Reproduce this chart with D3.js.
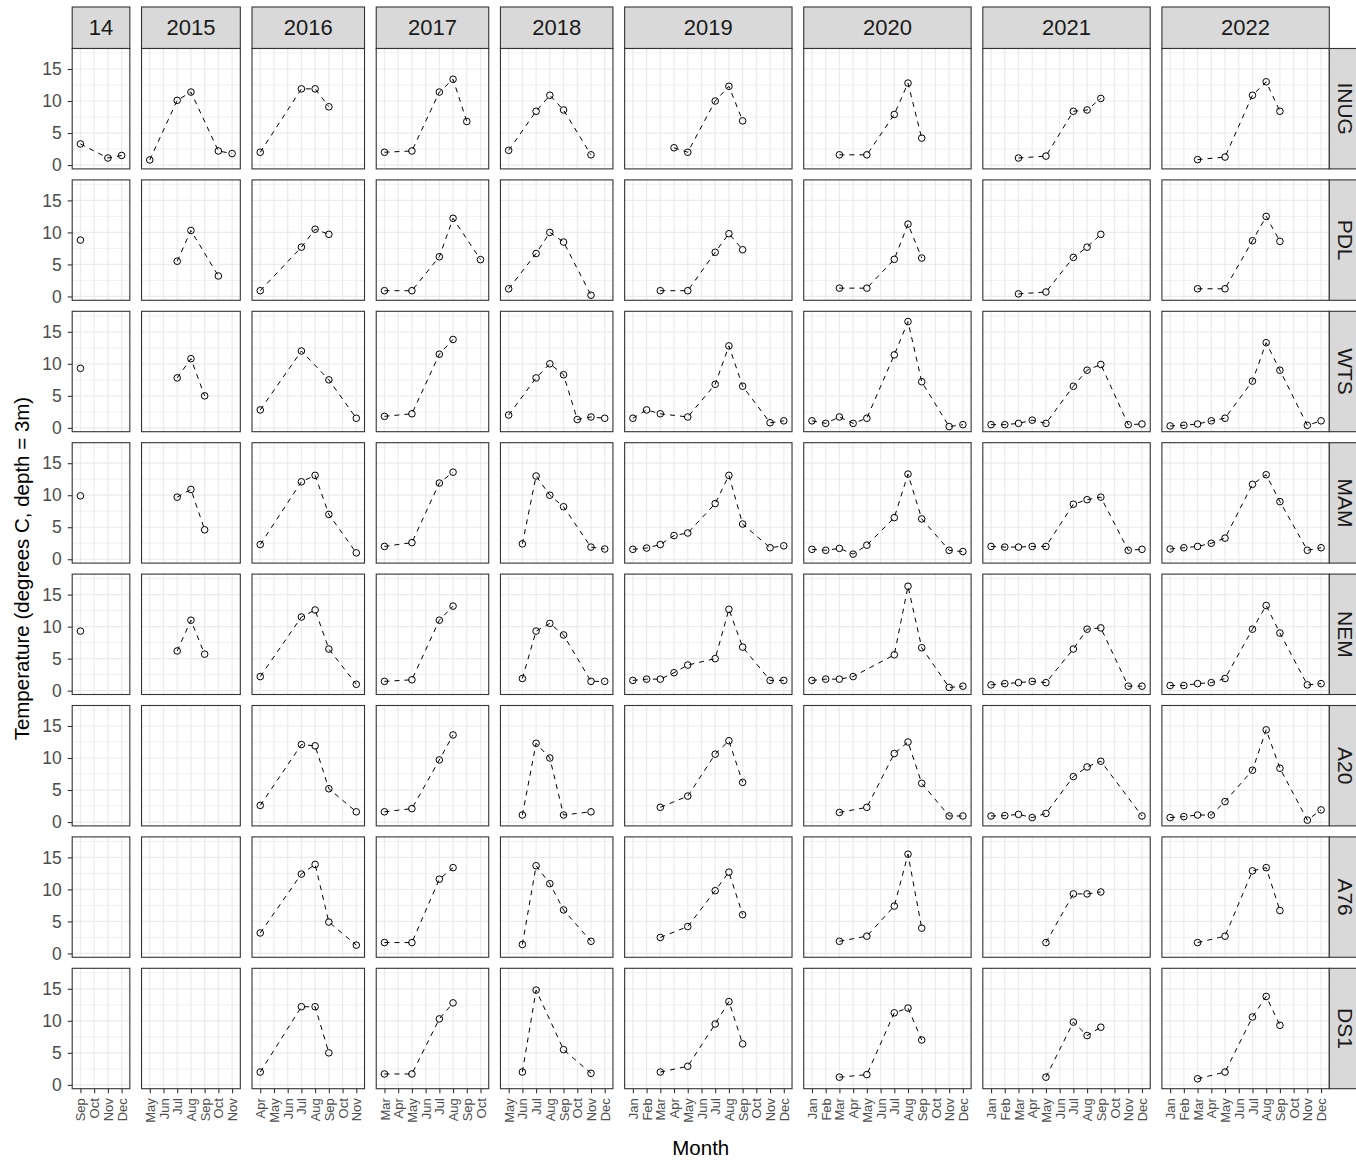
<!DOCTYPE html>
<html>
<head>
<meta charset="utf-8">
<script src="https://cdn.jsdelivr.net/npm/d3@7"></script>
<style>
  body { margin: 0; background: #fff; }
  svg { display: block; font-family: "Liberation Sans", Arial, sans-serif; }
</style>
</head>
<body>
<div id="chart"></div>
<script>
// ---- data ----
const sites = ["INUG", "PDL", "WTS", "MAM", "NEM", "A20", "A76", "DS1"];
const years = [2014, 2015, 2016, 2017, 2018, 2019, 2020, 2021, 2022];
const yearLabels = ["14", "2015", "2016", "2017", "2018", "2019", "2020", "2021", "2022"];
const monthLabels = ["Jan", "Feb", "Mar", "Apr", "May", "Jun", "Jul", "Aug", "Sep", "Oct", "Nov", "Dec"];
const yTicks = [0, 5, 10, 15];
const yMinor = [2.5, 7.5, 12.5, 17.5];

// [year, month, temperature]
const obsINUG = [
  [2014, 9, 3.3], [2014, 11, 1.1], [2014, 12, 1.5],
  [2015, 5, 0.8], [2015, 7, 10.1], [2015, 8, 11.4], [2015, 10, 2.2], [2015, 11, 1.8],
  [2016, 4, 2.0], [2016, 7, 11.9], [2016, 8, 11.9], [2016, 9, 9.1],
  [2017, 3, 2.0], [2017, 5, 2.2], [2017, 7, 11.4], [2017, 8, 13.4], [2017, 9, 6.8],
  [2018, 5, 2.3], [2018, 7, 8.4], [2018, 8, 10.9], [2018, 9, 8.6], [2018, 11, 1.6],
  [2019, 4, 2.7], [2019, 5, 2.0], [2019, 7, 10.0], [2019, 8, 12.3], [2019, 9, 6.9],
  [2020, 3, 1.6], [2020, 5, 1.6], [2020, 7, 7.9], [2020, 8, 12.8], [2020, 9, 4.2],
  [2021, 3, 1.1], [2021, 5, 1.4], [2021, 7, 8.4], [2021, 8, 8.6], [2021, 9, 10.4],
  [2022, 3, 0.85], [2022, 5, 1.25], [2022, 7, 10.9], [2022, 8, 13.0], [2022, 9, 8.4]
];
const obsPDL = [
  [2014, 9, 8.8],
  [2015, 7, 5.5], [2015, 8, 10.3], [2015, 10, 3.2],
  [2016, 4, 0.9], [2016, 7, 7.7], [2016, 8, 10.5], [2016, 9, 9.7],
  [2017, 3, 0.9], [2017, 5, 0.9], [2017, 7, 6.2], [2017, 8, 12.2], [2017, 10, 5.75],
  [2018, 5, 1.2], [2018, 7, 6.7], [2018, 8, 10.0], [2018, 9, 8.5], [2018, 11, 0.2],
  [2019, 3, 0.9], [2019, 5, 0.9], [2019, 7, 6.9], [2019, 8, 9.8], [2019, 9, 7.3],
  [2020, 3, 1.3], [2020, 5, 1.3], [2020, 7, 5.8], [2020, 8, 11.3], [2020, 9, 6.0],
  [2021, 3, 0.4], [2021, 5, 0.7], [2021, 7, 6.1], [2021, 8, 7.7], [2021, 9, 9.7],
  [2022, 3, 1.2], [2022, 5, 1.2], [2022, 7, 8.7], [2022, 8, 12.5], [2022, 9, 8.6]
];
const obsWTS = [
  [2014, 9, 9.3],
  [2015, 7, 7.8], [2015, 8, 10.8], [2015, 9, 5.0],
  [2016, 4, 2.8], [2016, 7, 12.0], [2016, 9, 7.5], [2016, 11, 1.5],
  [2017, 3, 1.8], [2017, 5, 2.2], [2017, 7, 11.5], [2017, 8, 13.8],
  [2018, 5, 2.0], [2018, 7, 7.8], [2018, 8, 10.0], [2018, 9, 8.3], [2018, 10, 1.3], [2018, 11, 1.7], [2018, 12, 1.5],
  [2019, 1, 1.5], [2019, 2, 2.8], [2019, 3, 2.2], [2019, 5, 1.7], [2019, 7, 6.8], [2019, 8, 12.8], [2019, 9, 6.5], [2019, 11, 0.8], [2019, 12, 1.1],
  [2020, 1, 1.1], [2020, 2, 0.7], [2020, 3, 1.7], [2020, 4, 0.7], [2020, 5, 1.5], [2020, 7, 11.4], [2020, 8, 16.6], [2020, 9, 7.2], [2020, 11, 0.2], [2020, 12, 0.5],
  [2021, 1, 0.5], [2021, 2, 0.5], [2021, 3, 0.7], [2021, 4, 1.2], [2021, 5, 0.7], [2021, 7, 6.5], [2021, 8, 9.0], [2021, 9, 9.9], [2021, 11, 0.5], [2021, 12, 0.6],
  [2022, 1, 0.3], [2022, 2, 0.4], [2022, 3, 0.6], [2022, 4, 1.1], [2022, 5, 1.5], [2022, 7, 7.3], [2022, 8, 13.3], [2022, 9, 9.0], [2022, 11, 0.4], [2022, 12, 1.1]
];
const obsMAM = [
  [2014, 9, 9.9],
  [2015, 7, 9.7], [2015, 8, 10.9], [2015, 9, 4.6],
  [2016, 4, 2.3], [2016, 7, 12.1], [2016, 8, 13.1], [2016, 9, 7.0], [2016, 11, 1.0],
  [2017, 3, 2.0], [2017, 5, 2.6], [2017, 7, 11.9], [2017, 8, 13.6],
  [2018, 6, 2.4], [2018, 7, 13.0], [2018, 8, 10.0], [2018, 9, 8.2], [2018, 11, 1.9], [2018, 12, 1.6],
  [2019, 1, 1.55], [2019, 2, 1.75], [2019, 3, 2.3], [2019, 4, 3.7], [2019, 5, 4.1], [2019, 7, 8.7], [2019, 8, 13.1], [2019, 9, 5.5], [2019, 11, 1.8], [2019, 12, 2.1],
  [2020, 1, 1.55], [2020, 2, 1.4], [2020, 3, 1.7], [2020, 4, 0.8], [2020, 5, 2.2], [2020, 7, 6.5], [2020, 8, 13.3], [2020, 9, 6.3], [2020, 11, 1.4], [2020, 12, 1.2],
  [2021, 1, 2.0], [2021, 2, 1.9], [2021, 3, 1.9], [2021, 4, 2.0], [2021, 5, 2.0], [2021, 7, 8.6], [2021, 8, 9.3], [2021, 9, 9.7], [2021, 11, 1.4], [2021, 12, 1.55],
  [2022, 1, 1.6], [2022, 2, 1.8], [2022, 3, 2.0], [2022, 4, 2.5], [2022, 5, 3.3], [2022, 7, 11.7], [2022, 8, 13.2], [2022, 9, 9.0], [2022, 11, 1.4], [2022, 12, 1.8]
];
const obsNEM = [
  [2014, 9, 9.3],
  [2015, 7, 6.2], [2015, 8, 11.0], [2015, 9, 5.7],
  [2016, 4, 2.2], [2016, 7, 11.5], [2016, 8, 12.6], [2016, 9, 6.5], [2016, 11, 1.0],
  [2017, 3, 1.45], [2017, 5, 1.7], [2017, 7, 11.0], [2017, 8, 13.2],
  [2018, 6, 1.9], [2018, 7, 9.3], [2018, 8, 10.5], [2018, 9, 8.7], [2018, 11, 1.45], [2018, 12, 1.45],
  [2019, 1, 1.6], [2019, 2, 1.8], [2019, 3, 1.8], [2019, 4, 2.8], [2019, 5, 4.0], [2019, 7, 5.0], [2019, 8, 12.7], [2019, 9, 6.8], [2019, 11, 1.6], [2019, 12, 1.6],
  [2020, 1, 1.6], [2020, 2, 1.8], [2020, 3, 1.8], [2020, 4, 2.2], [2020, 7, 5.6], [2020, 8, 16.3], [2020, 9, 6.7], [2020, 11, 0.5], [2020, 12, 0.7],
  [2021, 1, 0.9], [2021, 2, 1.1], [2021, 3, 1.25], [2021, 4, 1.45], [2021, 5, 1.25], [2021, 7, 6.5], [2021, 8, 9.6], [2021, 9, 9.8], [2021, 11, 0.7], [2021, 12, 0.7],
  [2022, 1, 0.8], [2022, 2, 0.8], [2022, 3, 1.1], [2022, 4, 1.25], [2022, 5, 1.9], [2022, 7, 9.6], [2022, 8, 13.3], [2022, 9, 9.0], [2022, 11, 0.9], [2022, 12, 1.1]
];
const obsA20 = [
  [2016, 4, 2.6], [2016, 7, 12.1], [2016, 8, 11.9], [2016, 9, 5.2], [2016, 11, 1.6],
  [2017, 3, 1.6], [2017, 5, 2.1], [2017, 7, 9.7], [2017, 8, 13.6],
  [2018, 6, 1.1], [2018, 7, 12.3], [2018, 8, 10.0], [2018, 9, 1.1], [2018, 11, 1.6],
  [2019, 3, 2.3], [2019, 5, 4.05], [2019, 7, 10.6], [2019, 8, 12.7], [2019, 9, 6.2],
  [2020, 3, 1.5], [2020, 5, 2.3], [2020, 7, 10.7], [2020, 8, 12.5], [2020, 9, 6.05], [2020, 11, 0.95], [2020, 12, 0.95],
  [2021, 1, 0.95], [2021, 2, 1.0], [2021, 3, 1.2], [2021, 4, 0.7], [2021, 5, 1.35], [2021, 7, 7.1], [2021, 8, 8.6], [2021, 9, 9.5], [2021, 12, 0.95],
  [2022, 1, 0.7], [2022, 2, 0.85], [2022, 3, 1.1], [2022, 4, 1.1], [2022, 5, 3.2], [2022, 7, 8.1], [2022, 8, 14.4], [2022, 9, 8.4], [2022, 11, 0.3], [2022, 12, 1.9]
];
const obsA76 = [
  [2016, 4, 3.2], [2016, 7, 12.4], [2016, 8, 13.9], [2016, 9, 4.9], [2016, 11, 1.3],
  [2017, 3, 1.7], [2017, 5, 1.7], [2017, 7, 11.6], [2017, 8, 13.4],
  [2018, 6, 1.4], [2018, 7, 13.7], [2018, 8, 10.9], [2018, 9, 6.8], [2018, 11, 1.9],
  [2019, 3, 2.5], [2019, 5, 4.2], [2019, 7, 9.8], [2019, 8, 12.7], [2019, 9, 6.05],
  [2020, 3, 1.9], [2020, 5, 2.7], [2020, 7, 7.4], [2020, 8, 15.5], [2020, 9, 3.95],
  [2021, 5, 1.7], [2021, 7, 9.3], [2021, 8, 9.3], [2021, 9, 9.6],
  [2022, 3, 1.7], [2022, 5, 2.7], [2022, 7, 12.9], [2022, 8, 13.4], [2022, 9, 6.7]
];
const obsDS1 = [
  [2016, 4, 2.0], [2016, 7, 12.2], [2016, 8, 12.2], [2016, 9, 5.0],
  [2017, 3, 1.7], [2017, 5, 1.7], [2017, 7, 10.3], [2017, 8, 12.8],
  [2018, 6, 2.0], [2018, 7, 14.8], [2018, 9, 5.5], [2018, 11, 1.8],
  [2019, 3, 2.0], [2019, 5, 2.9], [2019, 7, 9.5], [2019, 8, 13.0], [2019, 9, 6.4],
  [2020, 3, 1.2], [2020, 5, 1.6], [2020, 7, 11.25], [2020, 8, 12.0], [2020, 9, 7.0],
  [2021, 5, 1.2], [2021, 7, 9.8], [2021, 8, 7.7], [2021, 9, 9.0],
  [2022, 3, 0.95], [2022, 5, 2.0], [2022, 7, 10.6], [2022, 8, 13.8], [2022, 9, 9.3]
];

const siteObs = {
  INUG: obsINUG, PDL: obsPDL, WTS: obsWTS, MAM: obsMAM,
  NEM: obsNEM, A20: obsA20, A76: obsA76, DS1: obsDS1
};

// ---- layout ----
const width = 1356, height = 1165;
const plotLeft = 72.2, plotRight = 1329.3, colGap = 11.7;
const panelTop = 48.5, rowH = 120.4, rowGap = 11;
const stripH = 41.5, stripW = 41;
const padMonths = 0.6; // x expansion each side

const gridCol = "#EBEBEB", frameCol = "#333333", textCol = "#4D4D4D";

// month extent per year column, from all sites
const allObs = sites.flatMap(s => siteObs[s].map(d => ({ site: s, year: d[0], month: d[1], temp: d[2] })));
const colExtent = years.map(yr => d3.extent(allObs.filter(d => d.year === yr), d => d.month));
const spans = colExtent.map(e => e[1] - e[0] + 2 * padMonths);
const pxPerMonth = (plotRight - plotLeft - colGap * (years.length - 1)) / d3.sum(spans);

let xCursor = plotLeft;
const cols = years.map((yr, i) => {
  const w = spans[i] * pxPerMonth;
  const c = {
    year: yr, label: yearLabels[i], x0: xCursor, w: w,
    months: d3.range(colExtent[i][0], colExtent[i][1] + 1),
    x: d3.scaleLinear().domain([colExtent[i][0] - padMonths, colExtent[i][1] + padMonths]).range([0, w])
  };
  xCursor += w + colGap;
  return c;
});

const y = d3.scaleLinear().domain([-0.6, 18.2]).range([rowH, 0]);

const svg = d3.select("#chart").append("svg")
  .attr("width", width)
  .attr("height", height);

svg.append("rect").attr("width", width).attr("height", height).attr("fill", "#fff");

// top strips
cols.forEach(c => {
  const g = svg.append("g").attr("transform", `translate(${c.x0},${panelTop - stripH})`);
  g.append("rect")
    .attr("width", c.w).attr("height", stripH)
    .attr("fill", "#D9D9D9").attr("stroke", frameCol).attr("stroke-width", 1.1);
  g.append("text")
    .attr("x", c.w / 2).attr("y", stripH / 2)
    .attr("dy", "0.35em")
    .attr("text-anchor", "middle")
    .style("font-size", "22px")
    .style("fill", "#1A1A1A")
    .text(c.label);
});

// panels
sites.forEach((site, r) => {
  const py = panelTop + r * (rowH + rowGap);

  cols.forEach((c, ci) => {
    const g = svg.append("g").attr("transform", `translate(${c.x0},${py})`);

    g.append("rect").attr("width", c.w).attr("height", rowH).attr("fill", "#fff");

    g.selectAll("line.ymin").data(yMinor).enter().append("line")
      .attr("x1", 0).attr("x2", c.w)
      .attr("y1", d => y(d)).attr("y2", d => y(d))
      .attr("stroke", gridCol).attr("stroke-width", 0.7);
    g.selectAll("line.ymaj").data(yTicks).enter().append("line")
      .attr("x1", 0).attr("x2", c.w)
      .attr("y1", d => y(d)).attr("y2", d => y(d))
      .attr("stroke", gridCol).attr("stroke-width", 1.2);
    g.selectAll("line.xmaj").data(c.months).enter().append("line")
      .attr("x1", d => c.x(d)).attr("x2", d => c.x(d))
      .attr("y1", 0).attr("y2", rowH)
      .attr("stroke", gridCol).attr("stroke-width", 1.2);

    const pts = siteObs[site]
      .filter(d => d[0] === c.year)
      .map(d => ({ month: d[1], temp: d[2] }))
      .sort((a, b) => a.month - b.month);

    if (pts.length > 1) {
      const line = d3.line().x(d => c.x(d.month)).y(d => y(d.temp));
      g.append("path")
        .datum(pts)
        .attr("d", line)
        .attr("fill", "none")
        .attr("stroke", "#000")
        .attr("stroke-width", 1)
        .attr("stroke-dasharray", "5,5");
    }

    g.selectAll("circle").data(pts).enter().append("circle")
      .attr("cx", d => c.x(d.month))
      .attr("cy", d => y(d.temp))
      .attr("r", 3.3)
      .attr("fill", "none")
      .attr("stroke", "#000")
      .attr("stroke-width", 1);

    g.append("rect")
      .attr("width", c.w).attr("height", rowH)
      .attr("fill", "none").attr("stroke", frameCol).attr("stroke-width", 1.1);

    // y axis on first column
    if (ci === 0) {
      const ax = g.append("g").call(d3.axisLeft(y).tickValues(yTicks).tickSize(4.5).tickPadding(6));
      ax.select(".domain").remove();
      ax.selectAll(".tick line").attr("stroke", frameCol).attr("stroke-width", 1.1);
      ax.selectAll(".tick text").style("font-size", "17.5px").style("fill", textCol).style("font-family", "Liberation Sans, Arial, sans-serif");
    }

    // x axis on bottom row
    if (r === sites.length - 1) {
      const ax = g.append("g")
        .attr("transform", `translate(0,${rowH})`)
        .call(d3.axisBottom(c.x).tickValues(c.months).tickFormat(m => monthLabels[m - 1]).tickSize(4.5).tickPadding(4));
      ax.select(".domain").remove();
      ax.selectAll(".tick line").attr("stroke", frameCol).attr("stroke-width", 1.1);
      ax.selectAll(".tick text")
        .attr("transform", "rotate(-90)")
        .attr("x", -9.5).attr("y", 0).attr("dy", "0.35em")
        .attr("text-anchor", "end")
        .style("font-size", "13px").style("fill", textCol)
        .style("font-family", "Liberation Sans, Arial, sans-serif");
    }
  });

  // right strip (runs past the picture edge, as in the reference)
  const sg = svg.append("g").attr("transform", `translate(${plotRight},${py})`);
  sg.append("rect")
    .attr("width", stripW).attr("height", rowH)
    .attr("fill", "#D9D9D9").attr("stroke", frameCol).attr("stroke-width", 1.1);
  sg.append("text")
    .attr("transform", `translate(16.5,${rowH / 2}) rotate(90)`)
    .attr("dy", "0.35em")
    .attr("text-anchor", "middle")
    .style("font-size", "21px")
    .style("fill", "#1A1A1A")
    .text(site);
});

// axis titles
const lastRowBottom = panelTop + sites.length * rowH + (sites.length - 1) * rowGap;
svg.append("text")
  .attr("x", (plotLeft + plotRight) / 2)
  .attr("y", 1155)
  .attr("text-anchor", "middle")
  .style("font-size", "20.5px")
  .style("fill", "#000")
  .text("Month");

svg.append("text")
  .attr("transform", `translate(29,${(panelTop + lastRowBottom) / 2}) rotate(-90)`)
  .attr("text-anchor", "middle")
  .style("font-size", "20.5px")
  .style("fill", "#000")
  .text("Temperature (degrees C, depth = 3m)");
</script>
</body>
</html>
